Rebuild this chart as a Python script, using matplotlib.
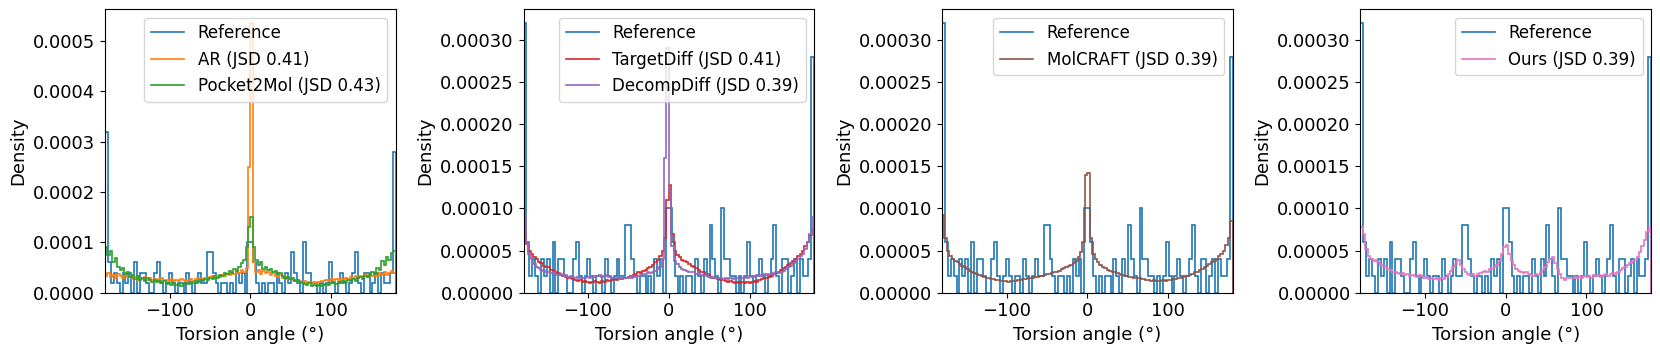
import numpy as np
import matplotlib
matplotlib.use("Agg")
import matplotlib.pyplot as plt

# reference torsion histogram, 100 bins over [-180, 180], in units of 2e-5
ref_counts = [16, 3, 1, 2, 1, 0, 2, 1, 2, 0,
              3, 0, 2, 2, 1, 0, 0, 2, 3, 1,
              0, 1, 2, 1, 0, 1, 1, 0, 2, 1,
              0, 1, 2, 1, 1, 4, 4, 2, 1, 0,
              1, 1, 0, 1, 0, 2, 1, 2, 0, 5,
              5, 3, 1, 0, 1, 0, 1, 1, 0, 2,
              1, 0, 2, 1, 4, 2, 1, 0, 5, 2,
              2, 1, 1, 0, 1, 0, 1, 3, 1, 0,
              1, 2, 1, 0, 1, 2, 4, 1, 0, 2,
              2, 0, 1, 2, 0, 2, 1, 1, 2, 14]
ref_unit = 2e-5

# model densities, 120 bins of 3 degrees, in units of 1e-5
ar = [3.4, 3.9, 3.2, 3.6, 3.0, 3.8, 3.3, 2.9, 3.5, 3.1,
      3.3, 2.8, 3.2, 2.6, 3.0, 2.7, 3.1, 2.5, 2.9, 2.6,
      2.8, 2.4, 2.7, 3.0, 2.5, 2.6, 2.3, 2.8, 2.4, 2.6,
      2.3, 2.7, 2.5, 2.2, 2.6, 2.8, 2.4, 2.7, 2.9, 2.6,
      2.8, 3.0, 2.7, 3.1, 3.3, 2.9, 3.4, 3.2, 3.6, 3.3,
      3.7, 3.5, 4.0, 3.8, 4.3, 4.0, 4.6, 4.2, 5.0, 25.0,
      53.6, 6.0, 4.2, 4.5, 3.8, 4.4, 3.9, 4.1, 3.6, 3.9,
      3.4, 3.2, 3.5, 2.9, 3.1, 2.7, 2.9, 2.5, 2.4, 2.6,
      2.3, 2.1, 2.4, 2.0, 2.2, 1.9, 2.1, 2.0, 2.2, 2.4,
      2.3, 2.6, 2.4, 2.7, 2.5, 2.8, 2.6, 2.9, 2.7, 3.0,
      2.8, 3.1, 2.9, 3.3, 3.0, 3.4, 3.2, 3.5, 3.1, 3.6,
      3.3, 3.8, 3.4, 3.9, 3.5, 4.2, 3.6, 4.0, 4.4, 4.0]

pocket2mol = [9.0, 7.5, 8.2, 6.0, 6.8, 5.2, 4.5, 5.0, 3.8, 4.2,
              3.2, 3.6, 2.8, 3.4, 2.6, 3.0, 2.4, 2.9, 2.5, 2.2,
              2.6, 2.1, 2.4, 1.9, 2.3, 1.8, 2.0, 1.6, 1.9, 1.5,
              1.7, 1.4, 1.8, 2.0, 1.7, 2.2, 1.9, 2.4, 2.1, 2.6,
              2.3, 2.8, 2.5, 3.0, 2.7, 3.3, 3.0, 3.6, 3.4, 4.0,
              3.7, 4.3, 4.0, 4.8, 4.4, 5.2, 5.8, 6.5, 9.0, 13.0,
              15.0, 9.0, 6.5, 5.5, 6.0, 4.8, 5.2, 4.5, 4.8, 4.2,
              4.4, 3.8, 4.0, 3.4, 3.0, 3.2, 2.7, 2.9, 2.4, 2.6,
              2.2, 2.0, 1.8, 1.6, 1.9, 1.4, 1.6, 1.3, 1.5, 1.4,
              1.6, 1.8, 1.5, 1.9, 2.1, 1.7, 2.2, 2.0, 2.4, 2.1,
              2.5, 2.3, 2.7, 2.4, 2.9, 3.2, 2.8, 3.4, 3.1, 3.6,
              4.2, 3.8, 5.0, 4.5, 6.2, 5.5, 7.0, 6.4, 7.8, 8.2]

targetdiff = [6.8, 5.8, 5.0, 4.6, 4.2, 4.0, 3.6, 3.5, 3.2, 3.1,
              3.0, 2.7, 2.6, 2.4, 2.3, 2.1, 2.0, 1.9, 1.8, 1.7,
              1.6, 1.5, 1.4, 1.5, 1.3, 1.4, 1.3, 1.2, 1.3, 1.4,
              1.3, 1.2, 1.4, 1.3, 1.5, 1.4, 1.5, 1.6, 1.5, 1.7,
              1.6, 1.8, 1.7, 1.9, 2.0, 2.1, 2.2, 2.4, 2.3, 2.6,
              2.7, 2.9, 3.1, 3.3, 3.6, 3.9, 4.4, 5.0, 6.5, 11.0,
              12.8, 7.0, 5.0, 4.5, 4.2, 3.9, 3.8, 3.6, 3.4, 3.2,
              3.0, 2.9, 2.7, 2.5, 2.4, 2.2, 2.1, 1.9, 1.8, 1.7,
              1.6, 1.5, 1.5, 1.4, 1.3, 1.4, 1.3, 1.2, 1.3, 1.2,
              1.3, 1.2, 1.3, 1.2, 1.3, 1.4, 1.3, 1.5, 1.6, 1.7,
              1.8, 1.9, 2.0, 2.2, 2.3, 2.5, 2.7, 2.9, 3.1, 3.3,
              3.5, 3.8, 4.0, 4.3, 4.6, 5.0, 5.5, 6.0, 6.8, 7.5]

decompdiff = [9.0, 6.0, 4.6, 4.0, 3.4, 3.0, 2.9, 2.7, 2.6, 2.5,
              2.4, 2.3, 2.4, 2.2, 2.1, 2.2, 2.0, 2.1, 1.9, 2.0,
              1.9, 1.8, 1.9, 1.8, 1.7, 1.8, 1.9, 1.8, 2.0, 1.9,
              2.0, 2.1, 1.9, 2.0, 2.1, 1.9, 1.8, 1.7, 1.8, 1.7,
              1.8, 1.7, 1.8, 1.9, 1.8, 2.0, 1.9, 2.0, 2.1, 2.2,
              2.2, 2.4, 2.3, 2.5, 2.6, 2.8, 3.0, 4.0, 16.0, 29.0,
              12.0, 5.5, 3.8, 3.4, 3.0, 2.8, 2.7, 2.6, 2.5, 2.4,
              2.4, 2.2, 2.3, 2.1, 2.0, 2.1, 1.9, 1.8, 1.9, 1.7,
              1.8, 1.7, 1.6, 1.7, 1.6, 1.7, 1.6, 1.7, 1.8, 1.7,
              1.8, 1.9, 1.8, 2.0, 1.9, 2.0, 2.1, 2.0, 2.1, 2.2,
              2.1, 2.2, 2.3, 2.2, 2.4, 2.3, 2.5, 2.6, 2.8, 3.0,
              3.2, 3.5, 3.8, 4.0, 4.3, 4.6, 5.2, 6.0, 7.0, 9.0]

molcraft = [9.2, 6.5, 5.0, 4.3, 4.0, 3.8, 3.6, 3.4, 3.2, 3.0,
            2.8, 2.6, 2.5, 2.3, 2.2, 2.1, 2.0, 1.9, 1.8, 1.7,
            1.6, 1.6, 1.5, 1.5, 1.4, 1.4, 1.4, 1.3, 1.4, 1.4,
            1.4, 1.5, 1.5, 1.6, 1.6, 1.7, 1.8, 1.8, 1.9, 1.9,
            2.0, 2.0, 2.1, 2.2, 2.2, 2.3, 2.4, 2.5, 2.6, 2.8,
            2.9, 3.0, 3.2, 3.3, 3.5, 3.8, 4.2, 4.8, 6.0, 14.0,
            14.2, 6.5, 4.6, 4.0, 3.6, 3.3, 3.0, 2.9, 2.7, 2.6,
            2.5, 2.4, 2.3, 2.2, 2.1, 2.0, 2.0, 1.9, 1.9, 1.8,
            1.7, 1.7, 1.6, 1.6, 1.5, 1.5, 1.4, 1.5, 1.4, 1.4,
            1.4, 1.5, 1.4, 1.5, 1.5, 1.6, 1.6, 1.7, 1.8, 1.9,
            2.0, 2.0, 2.1, 2.2, 2.4, 2.5, 2.7, 2.8, 3.0, 3.2,
            3.4, 3.6, 3.8, 4.0, 4.3, 4.6, 5.0, 5.6, 6.5, 8.5]

ours = [7.8, 7.0, 5.2, 4.4, 4.0, 3.8, 3.9, 3.6, 3.3, 3.2,
        3.0, 2.8, 2.7, 2.5, 2.4, 2.3, 2.2, 2.3, 2.1, 2.2,
        2.0, 2.1, 2.0, 1.9, 2.1, 2.0, 1.8, 1.9, 1.6, 1.8,
        1.6, 1.7, 1.5, 1.7, 1.6, 1.9, 2.2, 2.6, 3.0, 3.4,
        3.9, 3.3, 2.8, 2.5, 2.2, 2.1, 2.2, 2.0, 2.2, 2.3,
        2.4, 2.6, 2.5, 2.8, 2.9, 3.1, 3.3, 3.8, 4.6, 5.4,
        5.6, 4.6, 3.8, 3.3, 2.8, 2.6, 2.4, 2.3, 2.4, 2.2,
        2.1, 2.0, 2.2, 2.1, 2.4, 2.7, 3.1, 3.6, 4.0, 4.2,
        3.5, 2.8, 2.2, 1.8, 1.5, 1.7, 1.8, 1.7, 1.9, 1.8,
        1.9, 1.8, 2.0, 1.9, 2.0, 1.8, 2.1, 2.0, 2.1, 1.9,
        2.1, 2.2, 2.0, 2.2, 2.3, 2.2, 2.5, 2.7, 2.9, 3.1,
        3.3, 3.5, 3.7, 3.9, 4.2, 4.8, 5.5, 6.3, 7.2, 7.8]
model_unit = 1e-5

panels = [
    [("AR (JSD 0.41)", ar, "C1"), ("Pocket2Mol (JSD 0.43)", pocket2mol, "C2")],
    [("TargetDiff (JSD 0.41)", targetdiff, "C3"), ("DecompDiff (JSD 0.39)", decompdiff, "C4")],
    [("MolCRAFT (JSD 0.39)", molcraft, "C5")],
    [("Ours (JSD 0.39)", ours, "C6")],
]

ref_vals = np.array(ref_counts) * ref_unit
ref_edges = np.linspace(-180, 180, len(ref_counts) + 1)

fig, axes = plt.subplots(1, 4, figsize=(16.6, 3.52), dpi=100)
fig.subplots_adjust(left=0.0633, right=0.9946, bottom=0.1685, top=0.9735, wspace=0.44)

for ax, models in zip(axes, panels):
    ax.stairs(ref_vals, ref_edges, color="C0", lw=1.2, label="Reference")
    top = ref_vals.max()
    for name, vals, col in models:
        v = np.array(vals) * model_unit
        edges = np.linspace(-180, 180, len(v) + 1)
        ax.stairs(v, edges, color=col, lw=1.2, label=name)
        top = max(top, v.max())
    ax.set_xlim(-180, 180)
    ax.set_ylim(0, top * 1.05)
    ax.set_xlabel("Torsion angle (°)", fontsize=13)
    ax.set_ylabel("Density", fontsize=13)
    ax.tick_params(labelsize=13)
    ax.legend(loc="upper right", fontsize=12)

plt.savefig("out.png", dpi=100)
